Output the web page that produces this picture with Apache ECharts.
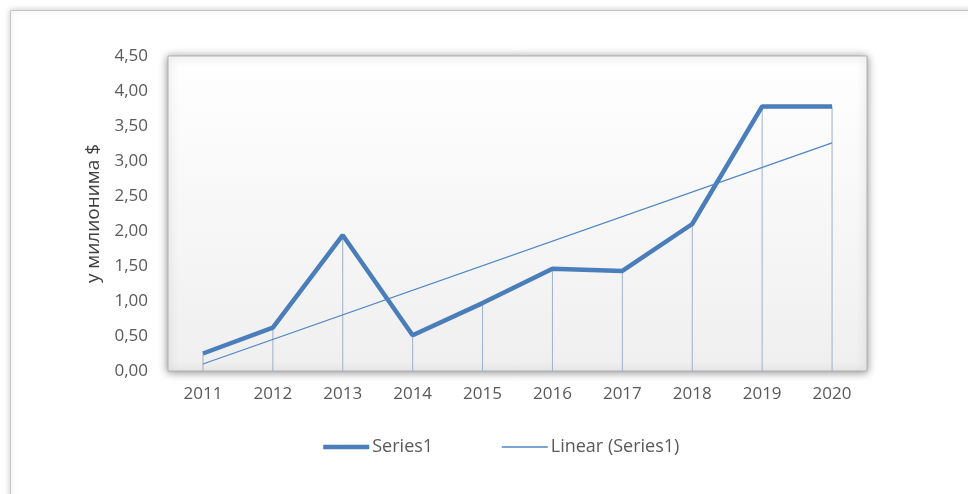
<!DOCTYPE html>
<html>
<head>
<meta charset="utf-8">
<script src="https://cdn.jsdelivr.net/npm/echarts@6/dist/echarts.min.js"></script>
<style>html,body{margin:0;padding:0;background:#fff}#c{width:968px;height:494px}</style>
</head>
<body>
<div id="c"></div>
<script>
const categories = ['2011','2012','2013','2014','2015','2016','2017','2018','2019','2020'];
const series1 = [0.25, 0.62, 1.94, 0.51, 0.97, 1.46, 1.43, 2.10, 3.78, 3.78];
const trendEnds = [0.10, 3.26]; // Linear (Series1) at first and last category
const yTicks = [0, 0.5, 1, 1.5, 2, 2.5, 3, 3.5, 4, 4.5];
const yAxisName = 'у милионима $';

const trendData = categories.map((c, i) => i === 0 ? trendEnds[0] : (i === categories.length - 1 ? trendEnds[1] : null));
const FONT = '"Open Sans", "Noto Sans", sans-serif';
const BLUE = '#4a7ebb';
const HIDE = {color: 'rgba(0,0,0,0)', borderWidth: 0, borderColor: 'rgba(0,0,0,0)'};

const chart = echarts.init(document.getElementById('c'), null, {renderer: 'canvas'});
chart.setOption({
  animation: false,
  backgroundColor: '#fff',
  graphic: [{
    type: 'rect', left: 10, top: 10, z: -10,
    shape: {width: 1200, height: 800},
    style: {fill: '#fff', stroke: '#c4c4c4', lineWidth: 1, shadowBlur: 6, shadowColor: 'rgba(0,0,0,0.25)'}
  }],
  grid: {
    left: 168, top: 56, right: 101, bottom: 123,
    show: true,
    borderColor: '#b0b0b0', borderWidth: 1,
    backgroundColor: {type: 'linear', x: 0, y: 0, x2: 0, y2: 1, colorStops: [{offset: 0, color: '#ffffff'}, {offset: 1, color: '#efefef'}]},
    shadowBlur: 8, shadowColor: 'rgba(0,0,0,0.45)', shadowOffsetX: 0, shadowOffsetY: 1
  },
  legend: {
    left: 321, top: 438, padding: 0,
    data: [
      {name: 'Series1', itemStyle: HIDE, lineStyle: {width: 4.5, color: BLUE}},
      {name: 'Linear (Series1)', itemStyle: HIDE, lineStyle: {width: 1.3, color: '#4f86c6'}}
    ],
    itemWidth: 46, itemHeight: 14, itemGap: 68,
    textStyle: {fontFamily: FONT, fontSize: 18, color: '#595959', padding: [0, 0, 0, -2]}
  },
  xAxis: {
    type: 'category', data: categories, boundaryGap: true,
    axisLine: {show: false}, axisTick: {show: false}, splitLine: {show: false},
    axisLabel: {fontFamily: FONT, fontSize: 17, color: '#595959', margin: 15}
  },
  yAxis: {
    type: 'value', min: yTicks[0], max: yTicks[yTicks.length - 1], interval: 0.5,
    name: yAxisName, nameLocation: 'middle', nameGap: 64, nameRotate: 90,
    nameTextStyle: {fontFamily: FONT, fontSize: 19, color: '#404040'},
    axisLine: {show: false}, axisTick: {show: false}, splitLine: {show: false},
    axisLabel: {fontFamily: FONT, fontSize: 17, color: '#595959', margin: 20,
      formatter: v => v.toFixed(2).replace('.', ',')}
  },
  series: [
    {
      name: 'drop', type: 'bar', data: series1, barWidth: 1, silent: true, z: 1,
      itemStyle: {color: '#9fb0c9'}
    },
    {
      name: 'Series1', type: 'line', data: series1, symbol: 'none', z: 3,
      lineStyle: {color: BLUE, width: 4.5}, itemStyle: {color: BLUE}
    },
    {
      name: 'Linear (Series1)', type: 'line', data: trendData, connectNulls: true, symbol: 'none', z: 4,
      lineStyle: {color: '#4f86c6', width: 1.3}, itemStyle: {color: '#4f86c6'}
    }
  ]
});
</script>
</body>
</html>
